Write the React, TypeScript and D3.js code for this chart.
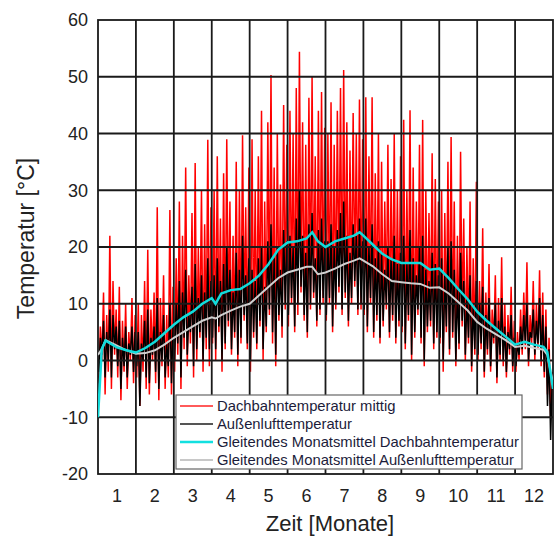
import React from "react";
import * as d3 from "d3";

// 12 samples per month (daily-extreme pairs), months 1..12
const roofMax = [
  6, 12, 8, 22, 14, 9, 13, 7, 10, 5, 11, 8,
  10, 8, 14, 19.5, 9, 12, 27, 11, 15, 8, 26.5, 13,
  18, 28, 22, 34, 15, 26, 34.8, 20, 30, 24, 38.9, 27,
  30, 36, 25, 33, 39, 28, 22, 35, 30, 39.7, 27, 34,
  39, 30, 36, 44, 28, 42, 50.3, 34, 40, 31, 45, 38,
  44, 40, 48, 54.4, 42, 38, 46.3, 50, 36, 44, 47.3, 41,
  40, 45.5, 38, 44, 48, 51.2, 42, 37, 43.6, 40, 46, 39,
  46.4, 36, 46.4, 33, 40, 35, 28, 38, 32, 40, 30, 36,
  42.4, 30, 44.1, 34, 28, 38, 42.4, 30, 26, 36.5, 32, 28,
  30, 26, 35, 39.4, 28, 22, 36.8, 25, 20, 28, 18, 31.5,
  14, 23.3, 12, 17, 9, 15, 11, 18.2, 10, 8, 13, 7,
  5, 9, 12, 17.3, 8, 14, 10, 15.9, 12, 9, 4, -2,
];
const roofMin = [
  -4, 0, -6, -2, -5, 1, -3, -7, -2, -5, 0, -4,
  -3, -8, -2, -5, -6, 0, -4, -7, -1, -5, -3, -6,
  -2, 1, -5, 2, -1, 3, -3, 0, 4, -2, 2, -1,
  3, 0, 5, -2, 2, 6, 1, 4, -1, 3, 7, 2,
  -2, 4, 2, 6, 0, 5, 8, 3, -1, 7, 4, 9,
  6, 10, 5, 8, 12, 7, 4, 9, 11, 6, 8, 10,
  7, 10, 5, 9, 12, 8, 11, 6, 10, 13, 8, 9,
  8, 5, 10, 4, 7, 3, 6, 9, 4, 7, 3, 6,
  5, 2, 7, 0, 4, 8, 3, -1, 5, 6, 2, 4,
  3, -2, 5, 1, 4, -1, 2, 6, 0, 3, -2, 1,
  0, 2, -3, 1, -2, 3, -4, 0, -1, -3, 1, -2,
  -2, 0, 1, 2, -1, 3, 0, 2, -1, -3, -6, -10,
];
const airMax = [
  4, 7, 5, 9, 8, 6, 7, 4, 6, 3, 6, 5,
  5, 3, 7, 9, 4, 6, 11, 5, 8, 3, 10, 6,
  10, 14, 12, 16, 8, 13, 17, 11, 15, 12, 18, 14,
  15, 18, 14, 17, 20, 16, 12, 19, 16, 22, 15, 18,
  16, 14, 18, 20, 13, 21, 24, 18, 20, 16, 23, 21,
  22, 20, 25, 30, 22, 19, 24, 26, 18, 23, 25, 21,
  21, 24, 20, 23, 26, 28, 22, 19, 24, 22, 25, 21,
  25, 20, 24, 18, 21, 19, 16, 20, 18, 22, 17, 19,
  22, 17, 23, 18, 15, 20, 22, 16, 14, 19, 17, 15,
  18, 15, 20, 21, 16, 13, 19, 14, 11, 15, 10, 14,
  10, 13, 8, 11, 6, 10, 7, 11, 6, 5, 8, 4,
  3, 6, 8, 10, 5, 9, 7, 11, 8, 6, 2, -3,
];
const airMin = [
  -2, 1, -3, 0, -3, 2, -1, -5, -1, -3, 1, -2,
  -1, -8, 0, -3, -4, 1, -2, -5, 0, -3, -1, -4,
  0, 3, -3, 4, 1, 5, -1, 2, 5, 0, 4, 2,
  4, 2, 6, 0, 3, 7, 2, 5, 1, 4, 8, 3,
  0, 5, 3, 7, 2, 6, 9, 5, 1, 8, 6, 10,
  8, 11, 6, 10, 13, 8, 5, 10, 12, 7, 9, 11,
  8, 11, 6, 10, 13, 9, 12, 7, 11, 14, 9, 10,
  9, 6, 11, 5, 8, 4, 7, 10, 5, 8, 4, 7,
  6, 3, 8, 1, 5, 9, 4, 0, 6, 7, 3, 5,
  4, 0, 6, 2, 5, 0, 3, 7, 1, 4, -1, 2,
  1, 3, -2, 2, -1, 4, -3, 1, 0, -2, 2, -1,
  -1, 1, 2, 3, 0, 4, 1, 3, 0, -2, -8, -14,
];

// moving monthly averages
const avgMonths = [
  0, 0.1, 0.2, 0.5, 0.75, 1, 1.25, 1.5, 1.75, 2, 2.25, 2.5, 2.75, 3, 3.1, 3.25, 3.5, 3.75,
  4, 4.25, 4.5, 4.75, 5, 5.25, 5.5, 5.65, 5.8, 6, 6.25, 6.5, 6.75, 6.9, 7, 7.25, 7.5, 7.75,
  8, 8.25, 8.5, 8.75, 9, 9.25, 9.5, 9.75, 10, 10.25, 10.5, 10.75, 11, 11.25, 11.5, 11.75, 11.85, 12,
];
const roofAvg = [
  -10, 2, 3.5, 2.3, 1.8, 1.4, 2.2, 3.3, 4.8, 6.3, 7.6, 8.6, 10, 11, 10, 11.8, 12.4, 12.6,
  13.6, 15, 17, 19.5, 20.8, 21, 21.5, 22.6, 21, 20, 21, 21.5, 22, 22.6, 22, 20.4, 18.8, 17.8,
  17.2, 17.2, 17.2, 16, 16.2, 14.5, 12.6, 10.8, 8.6, 7, 5.6, 4.2, 2.8, 3.3, 2.8, 2.4, 1.5, -5,
];
const airAvg = [
  1, 2, 3.6, 2.6, 1.8, 1.2, 1.3, 1.8, 2.8, 4, 5, 6, 7, 7.6, 7.4, 8, 8.8, 9.5,
  10, 11.5, 13, 14.5, 15.5, 16, 16.5, 16.5, 15.2, 15.5, 16.2, 17, 17.6, 18, 17.6, 16.6, 15.2, 14,
  13.8, 13.6, 13.5, 12.8, 12.9, 11.8, 10.3, 8.8, 6.8, 5.6, 4.6, 3.6, 2.4, 2.6, 2.2, 1.9, 1.0, -4,
];

const yTicks = [-20, -10, 0, 10, 20, 30, 40, 50, 60];
const monthLabels = ["1", "2", "3", "4", "5", "6", "7", "8", "9", "10", "11", "12"];
const legendLabels = [
  "Dachbahntemperatur mittig",
  "Außenlufttemperatur",
  "Gleitendes Monatsmittel Dachbahntemperatur",
  "Gleitendes Monatsmittel Außenlufttemperatur",
];
const legendColors = ["#ff5a5a", "#555555", "#12e0e0", "#c8c8c8"];

const W = 555, H = 540;
const L = 98, R = 553, T = 20, B = 474;
const FONT = "'Liberation Sans', Arial, sans-serif";

export default function App() {
  const x = d3.scaleLinear().domain([0, 12]).range([L, R]);
  const y = d3.scaleLinear().domain([-20, 60]).range([B, T]);
  const step = 12 / roofMax.length;

  const zig = (mins: number[], maxs: number[]) => {
    const pts: [number, number][] = [];
    mins.forEach((mn, i) => {
      const t = (i + 0.5) * step;
      pts.push([t - step / 4, mn]);
      pts.push([t + step / 4, maxs[i]]);
    });
    return pts;
  };
  const line = d3.line<[number, number]>().x((d) => x(d[0])).y((d) => y(d[1]));
  const roofPath = line(zig(roofMin, roofMax)) || "";
  const airPath = line(zig(airMin, airMax)) || "";
  const roofAvgPath = line(avgMonths.map((m, i) => [m, roofAvg[i]] as [number, number])) || "";
  const airAvgPath = line(avgMonths.map((m, i) => [m, airAvg[i]] as [number, number])) || "";

  const gridX = d3.range(1, 12);
  const gridY = yTicks.slice(1, -1);

  const lgX = 176, lgY = 395, lgW = 346, lgH = 74;

  return (
    <svg width={W} height={H} style={{ position: "absolute", left: 0, top: 0 }} fontFamily={FONT}>
      <rect x={0} y={0} width={W} height={H} fill="#fff" />
      <defs>
        <clipPath id="plot">
          <rect x={L} y={T} width={R - L} height={B - T} />
        </clipPath>
      </defs>
      <g clipPath="url(#plot)">
        <path d={roofPath} fill="none" stroke="#ff0000" strokeWidth={1.5} strokeLinejoin="miter" />
        <path d={airPath} fill="none" stroke="#000" strokeWidth={1.5} strokeLinejoin="miter" />
      </g>
      <g stroke="#1a1a1a" strokeWidth={1.8}>
        {gridX.map((m) => (
          <line key={"gx" + m} x1={x(m)} x2={x(m)} y1={T} y2={B} />
        ))}
        {gridY.map((v) => (
          <line key={"gy" + v} x1={L} x2={R} y1={y(v)} y2={y(v)} />
        ))}
        <rect x={L} y={T} width={R - L} height={B - T} fill="none" />
      </g>
      <g clipPath="url(#plot)">
        <path d={airAvgPath} fill="none" stroke="#d0d0d0" strokeWidth={2} />
        <path d={roofAvgPath} fill="none" stroke="#12dcdc" strokeWidth={2.5} />
      </g>
      {yTicks.map((v) => (
        <text key={"yt" + v} x={88} y={y(v)} dy="0.35em" textAnchor="end" fontSize={18} fill="#222">
          {v}
        </text>
      ))}
      {monthLabels.map((lab, i) => (
        <text key={"xt" + i} x={x(i + 0.5)} y={502} textAnchor="middle" fontSize={18} fill="#222">
          {lab}
        </text>
      ))}
      <text x={330} y={531} textAnchor="middle" fontSize={22} fill="#222">
        Zeit [Monate]
      </text>
      <text transform={`translate(34,238.5) rotate(-90)`} textAnchor="middle" fontSize={23} fill="#222">
        Temperatur [°C]
      </text>
      <rect x={lgX} y={lgY} width={lgW} height={lgH} fill="#fff" stroke="#666" strokeWidth={1.2} />
      {legendLabels.map((lab, i) => {
        const cy = lgY + 11 + i * 18;
        return (
          <g key={"lg" + i}>
            <line x1={lgX + 4} x2={lgX + 37} y1={cy} y2={cy} stroke={legendColors[i]} strokeWidth={i === 2 ? 2.5 : 2} />
            <text x={lgX + 41} y={cy} dy="0.35em" fontSize={14.8} fill="#1c1c3a">
              {lab}
            </text>
          </g>
        );
      })}
    </svg>
  );
}
